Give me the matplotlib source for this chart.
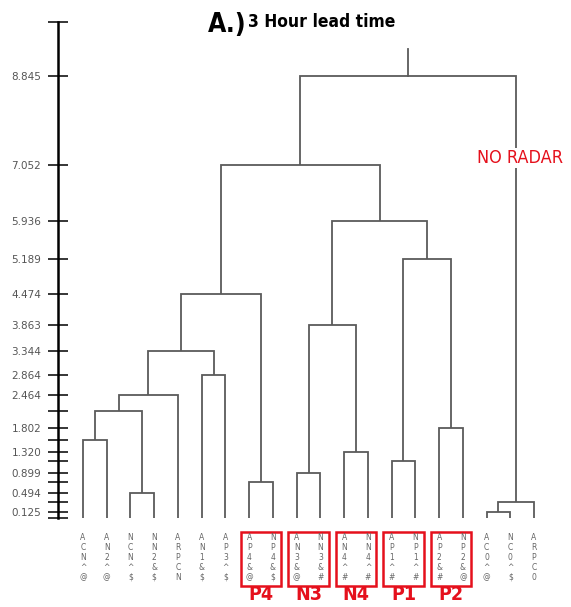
import matplotlib
matplotlib.use("Agg")
import matplotlib.pyplot as plt
from matplotlib.patches import Rectangle
from matplotlib import font_manager

# leaf order as drawn (left to right)
leaves = ["ACN^@", "AN2^@", "NCN^$", "NN2&$", "ARPCN", "AN1&$", "AP3^$",
          "AP4&@", "NP4&$", "AN3&@", "NN3&#", "AN4^#", "NN4^#", "AP1^#",
          "NP1^#", "AP2&#", "NP2&@", "AC0^@", "NC0^$", "ARPC0"]

# merges, scipy-style ids: leaves 0..19, new clusters 20, 21, ...
merge_left = [0, 2, 20, 22, 5, 23, 7, 25, 9, 11, 28, 13, 15, 31, 30, 27, 17, 36, 35]
merge_right = [1, 3, 21, 4, 6, 24, 8, 26, 10, 12, 29, 14, 16, 32, 33, 34, 18, 19, 37]
merge_height = [1.56, 0.494, 2.14, 2.464, 2.864, 3.344, 0.72, 4.474, 0.899, 1.320,
                3.863, 1.14, 1.802, 5.189, 5.936, 7.052, 0.125, 0.33, 8.845]
root_top = 9.38

labeled_ticks = [8.845, 7.052, 5.936, 5.189, 4.474, 3.863, 3.344, 2.864,
                 2.464, 1.802, 1.320, 0.899, 0.494, 0.125]
axis_top = 9.92

groups = ["P4", "N3", "N4", "P1", "P2"]
group_first_leaf = [7, 9, 11, 13, 15]

# pick a narrow font if one is around
names = {f.name for f in font_manager.fontManager.ttflist}
if "Liberation Sans Narrow" in names:
    narrow = dict(family="Liberation Sans Narrow")
else:
    narrow = dict(family="DejaVu Sans", fontstretch="condensed")
red = "#e5101c"
line_col = "#5a5a5a"

fig = plt.figure(figsize=(5.71, 6.07), dpi=100)
ax = fig.add_axes([0, 0, 1, 1])
ax.set_xlim(-3.496, 20.556)
ax.set_ylim(-1.78, 10.36)
ax.patch.set_alpha(0)

# dendrogram
xpos = {i: float(i) for i in range(len(leaves))}
ypos = {i: 0.0 for i in range(len(leaves))}
n = len(leaves)
for k, (a, b, h) in enumerate(zip(merge_left, merge_right, merge_height)):
    ax.plot([xpos[a], xpos[a], xpos[b], xpos[b]], [ypos[a], h, h, ypos[b]],
            color=line_col, lw=1.3, solid_capstyle="butt", solid_joinstyle="miter")
    xpos[n + k] = (xpos[a] + xpos[b]) / 2
    ypos[n + k] = h
root = n + len(merge_height) - 1
ax.plot([xpos[root], xpos[root]], [ypos[root], root_top], color=line_col, lw=1.3)

# y axis
for s in ["top", "right", "bottom"]:
    ax.spines[s].set_visible(False)
ax.spines["left"].set_position(("data", -1.05))
ax.spines["left"].set_bounds(0, axis_top)
ax.spines["left"].set_linewidth(1.8)
ticks = sorted(set(labeled_ticks + merge_height + [0.0, axis_top]))
ax.set_yticks(ticks)
ax.set_yticklabels([f"{t:.3f}" if t in labeled_ticks else "" for t in ticks])
ax.tick_params(axis="y", direction="inout", length=14.4, width=1.1,
               labelsize=7.5, labelcolor="#555555", pad=5)
ax.set_xticks([])

# leaf labels, one character per row
for i, name in enumerate(leaves):
    for j, ch in enumerate(name):
        ax.text(i, -0.38 - 0.2 * j, ch, ha="center", va="center",
                fontsize=5.5, color="#666666")

# red boxes for the paired leaves
for name, first in zip(groups, group_first_leaf):
    ax.add_patch(Rectangle((first - 0.35, -1.36), 1.7, 1.08, fill=False,
                           edgecolor=red, lw=1.8))
    ax.text(first + 0.5, -1.54, name, ha="center", va="center", fontsize=14,
            fontweight="bold", color=red, **narrow)

# label on the no-radar branch
ax.text(xpos[merge_right[-1]] + 0.15, 7.2, "NO RADAR",
        ha="center", va="center", fontsize=13, color=red, **narrow,
        bbox=dict(facecolor="white", edgecolor="none", pad=1))

# title
fig.text(208 / 571, 1 - 32 / 607, "A.)", fontsize=19, fontweight="bold",
         va="baseline", **narrow)
fig.text(248 / 571, 1 - 27 / 607, "3 Hour lead time", fontsize=12.5,
         fontweight="bold", va="baseline", **narrow)

fig.savefig("out.png", dpi=100)
